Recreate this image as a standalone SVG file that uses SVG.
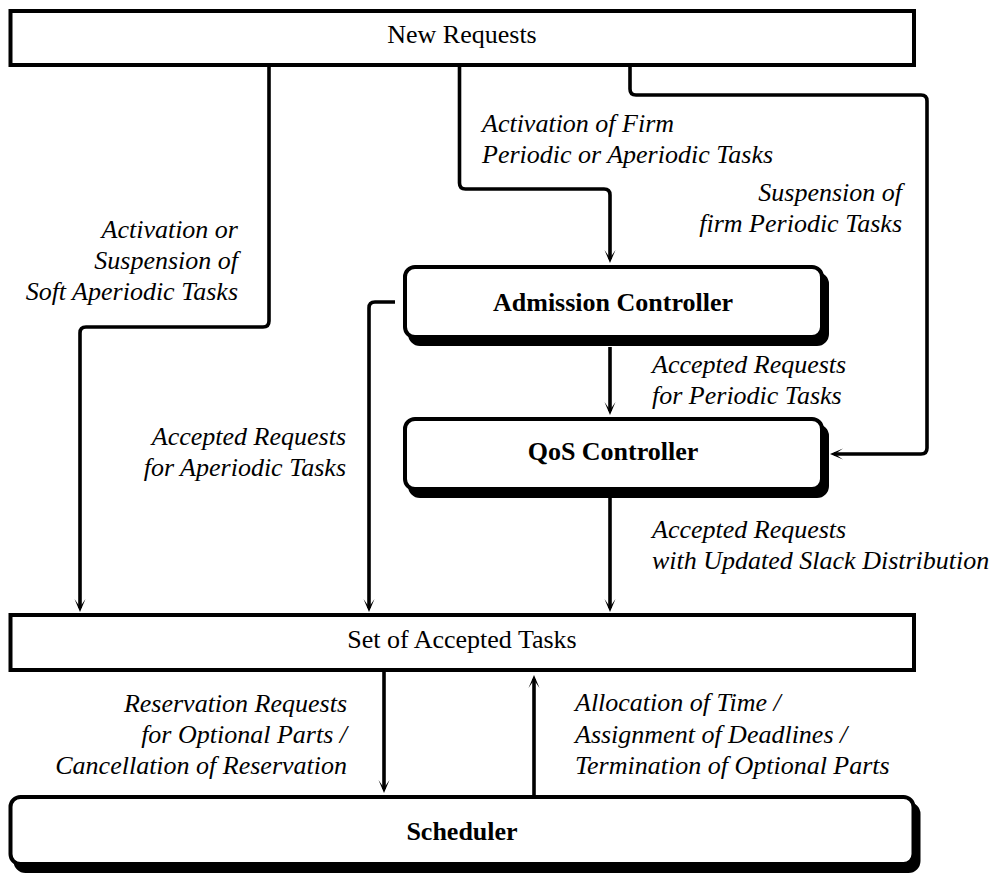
<svg xmlns="http://www.w3.org/2000/svg" width="998" height="875" viewBox="0 0 998 875">
<style>
.box{fill:#fff;stroke:#000;stroke-width:4}
.shadow{fill:#000;stroke:#000;stroke-width:4}
.t{font-family:"Liberation Serif","Times New Roman",serif;font-size:26px;fill:#000}
.b{font-weight:bold}
.i{font-style:italic}
.mid{text-anchor:middle}
.end{text-anchor:end}
.conn{fill:none;stroke:#000;stroke-width:3.6;stroke-linejoin:round;marker-end:url(#arr)}
</style>
<defs>
<marker id="arr" viewBox="0 -6 14 12" refX="9" refY="0" markerWidth="14" markerHeight="12" markerUnits="userSpaceOnUse" orient="auto">
<path d="M13,0 L0,-5.5 L8,0 L0,5.5 Z" fill="#000"/>
</marker>
</defs>
<rect width="998" height="875" fill="#fff"/>

<g id="connectors">
<path class="conn" d="M269,65 V321 Q269,327 263,327 H86 Q80,327 80,333 V608"/>
<path class="conn" d="M459.5,65 V183 Q459.5,189 465.5,189 H604 Q610,189 610,195 V259"/>
<path class="conn" d="M630,65 V89 Q630,95 636,95 H921 Q927,95 927,101 V448 Q927,454 921,454 H834"/>
<path class="conn" d="M610,347 V411"/>
<path class="conn" d="M395,302 H375 Q369,302 369,308 V608"/>
<path class="conn" d="M610,498 V608"/>
<path class="conn" d="M384,672 V789"/>
<path class="conn" d="M534,797 V679"/>
</g>

<g id="new-requests">
<rect class="box" x="10.5" y="11" width="903.5" height="54"/>
<text class="t mid" x="462" y="43">New Requests</text>
</g>

<g id="admission-controller">
<rect class="shadow" x="410" y="274" width="417" height="70" rx="10"/>
<rect class="box" x="405" y="267" width="417" height="70" rx="10"/>
<text class="t b mid" x="613" y="311">Admission Controller</text>
</g>

<g id="qos-controller">
<rect class="shadow" x="410" y="426" width="417" height="70" rx="10"/>
<rect class="box" x="405" y="419" width="417" height="70" rx="10"/>
<text class="t b mid" x="613" y="460">QoS Controller</text>
</g>

<g id="set-of-accepted-tasks">
<rect class="box" x="10.5" y="615" width="903.5" height="55"/>
<text class="t mid" x="462" y="648">Set of Accepted Tasks</text>
</g>

<g id="scheduler">
<rect class="shadow" x="15.5" y="804" width="903" height="67" rx="10"/>
<rect class="box" x="10.5" y="797" width="903" height="67" rx="10"/>
<text class="t b mid" x="462" y="840">Scheduler</text>
</g>

<g id="labels">
<text class="t i end" x="238"><tspan x="238" y="238">Activation or</tspan><tspan x="238" y="269">Suspension of</tspan><tspan x="238" y="300">Soft Aperiodic Tasks</tspan></text>
<text class="t i" x="482"><tspan x="482" y="132">Activation of Firm</tspan><tspan x="482" y="163">Periodic or Aperiodic Tasks</tspan></text>
<text class="t i end" x="902"><tspan x="902" y="201">Suspension of</tspan><tspan x="902" y="232">firm Periodic Tasks</tspan></text>
<text class="t i" x="652"><tspan x="652" y="373">Accepted Requests</tspan><tspan x="652" y="404">for Periodic Tasks</tspan></text>
<text class="t i end" x="346"><tspan x="346" y="445">Accepted Requests</tspan><tspan x="346" y="476">for Aperiodic Tasks</tspan></text>
<text class="t i" x="652"><tspan x="652" y="538">Accepted Requests</tspan><tspan x="652" y="569">with Updated Slack Distribution</tspan></text>
<text class="t i end" x="347"><tspan x="347" y="712">Reservation Requests</tspan><tspan x="347" y="743">for Optional Parts /</tspan><tspan x="347" y="774">Cancellation of Reservation</tspan></text>
<text class="t i" x="575"><tspan x="575" y="711">Allocation of Time /</tspan><tspan x="575" y="743">Assignment of Deadlines /</tspan><tspan x="575" y="774">Termination of Optional Parts</tspan></text>
</g>
</svg>
